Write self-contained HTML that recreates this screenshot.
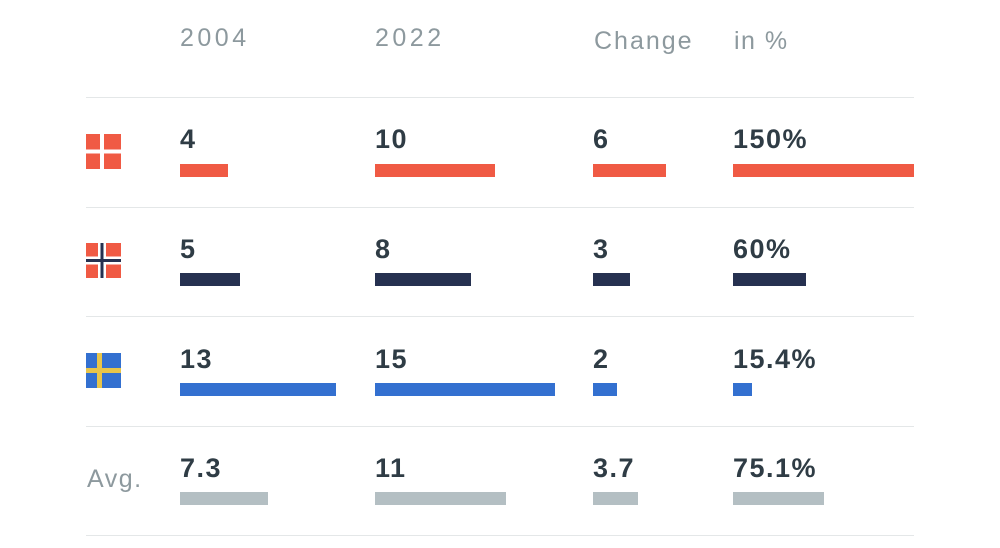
<!DOCTYPE html>
<html><head><style>
body{margin:0;width:1000px;height:548px;background:#fff;position:relative;overflow:hidden;font-family:"Liberation Sans",sans-serif}
.h{position:absolute;top:24px;font-size:25px;color:#8d999e;letter-spacing:1.5px}
.n{position:absolute;font-size:27px;font-weight:bold;color:#2f3c45;letter-spacing:1.5px}
.b{position:absolute;height:13px}
.l{position:absolute;left:86px;width:828px;height:1px;background:#e4e7e8}
.f{position:absolute;left:86px;width:35px;height:35px}
</style></head><body>
<div class="h" style="left:180px;letter-spacing:3.5px">2004</div>
<div class="h" style="left:375px;letter-spacing:3.5px">2022</div>
<div class="h" style="left:594px;top:27px;letter-spacing:2px">Change</div>
<div class="h" style="left:734px;top:27px">in %</div>
<div class="l" style="top:97px"></div><div class="l" style="top:207px"></div><div class="l" style="top:316px"></div><div class="l" style="top:426px"></div><div class="l" style="top:535px"></div>

<svg class="f" style="top:134px" viewBox="0 0 35 35"><rect width="35" height="35" fill="#f05a44"/><rect x="14" width="4" height="35" fill="#fff"/><rect y="15.5" width="35" height="4" fill="#fff"/></svg>
<svg class="f" style="top:243px" viewBox="0 0 35 35"><rect width="35" height="35" fill="#f05a44"/><rect x="12" width="8" height="35" fill="#fff"/><rect y="13.5" width="35" height="8" fill="#fff"/><rect x="14.5" width="3" height="35" fill="#263150"/><rect y="16" width="35" height="3" fill="#263150"/></svg>
<svg class="f" style="top:353px" viewBox="0 0 35 35"><rect width="35" height="35" fill="#3370d0"/><rect x="11" width="5" height="35" fill="#e8c54a"/><rect y="15" width="35" height="5" fill="#e8c54a"/></svg>
<div class="h" style="left:87px;top:465px;letter-spacing:1.5px">Avg.</div>

<div class="n" style="left:180px;top:124px">4</div><div class="b" style="left:180px;top:164px;width:48px;background:#f05a44"></div>
<div class="n" style="left:375px;top:124px">10</div><div class="b" style="left:375px;top:164px;width:120px;background:#f05a44"></div>
<div class="n" style="left:593px;top:124px">6</div><div class="b" style="left:593px;top:164px;width:73px;background:#f05a44"></div>
<div class="n" style="left:733px;top:124px">150%</div><div class="b" style="left:733px;top:164px;width:181px;background:#f05a44"></div>

<div class="n" style="left:180px;top:234px">5</div><div class="b" style="left:180px;top:273px;width:60px;background:#263150"></div>
<div class="n" style="left:375px;top:234px">8</div><div class="b" style="left:375px;top:273px;width:96px;background:#263150"></div>
<div class="n" style="left:593px;top:234px">3</div><div class="b" style="left:593px;top:273px;width:37px;background:#263150"></div>
<div class="n" style="left:733px;top:234px">60%</div><div class="b" style="left:733px;top:273px;width:73px;background:#263150"></div>

<div class="n" style="left:180px;top:344px">13</div><div class="b" style="left:180px;top:383px;width:156px;background:#3370d0"></div>
<div class="n" style="left:375px;top:344px">15</div><div class="b" style="left:375px;top:383px;width:180px;background:#3370d0"></div>
<div class="n" style="left:593px;top:344px">2</div><div class="b" style="left:593px;top:383px;width:24px;background:#3370d0"></div>
<div class="n" style="left:733px;top:344px">15.4%</div><div class="b" style="left:733px;top:383px;width:19px;background:#3370d0"></div>

<div class="n" style="left:180px;top:453px">7.3</div><div class="b" style="left:180px;top:492px;width:88px;background:#b4bfc3"></div>
<div class="n" style="left:375px;top:453px">11</div><div class="b" style="left:375px;top:492px;width:131px;background:#b4bfc3"></div>
<div class="n" style="left:593px;top:453px">3.7</div><div class="b" style="left:593px;top:492px;width:45px;background:#b4bfc3"></div>
<div class="n" style="left:733px;top:453px">75.1%</div><div class="b" style="left:733px;top:492px;width:91px;background:#b4bfc3"></div>
</body></html>
